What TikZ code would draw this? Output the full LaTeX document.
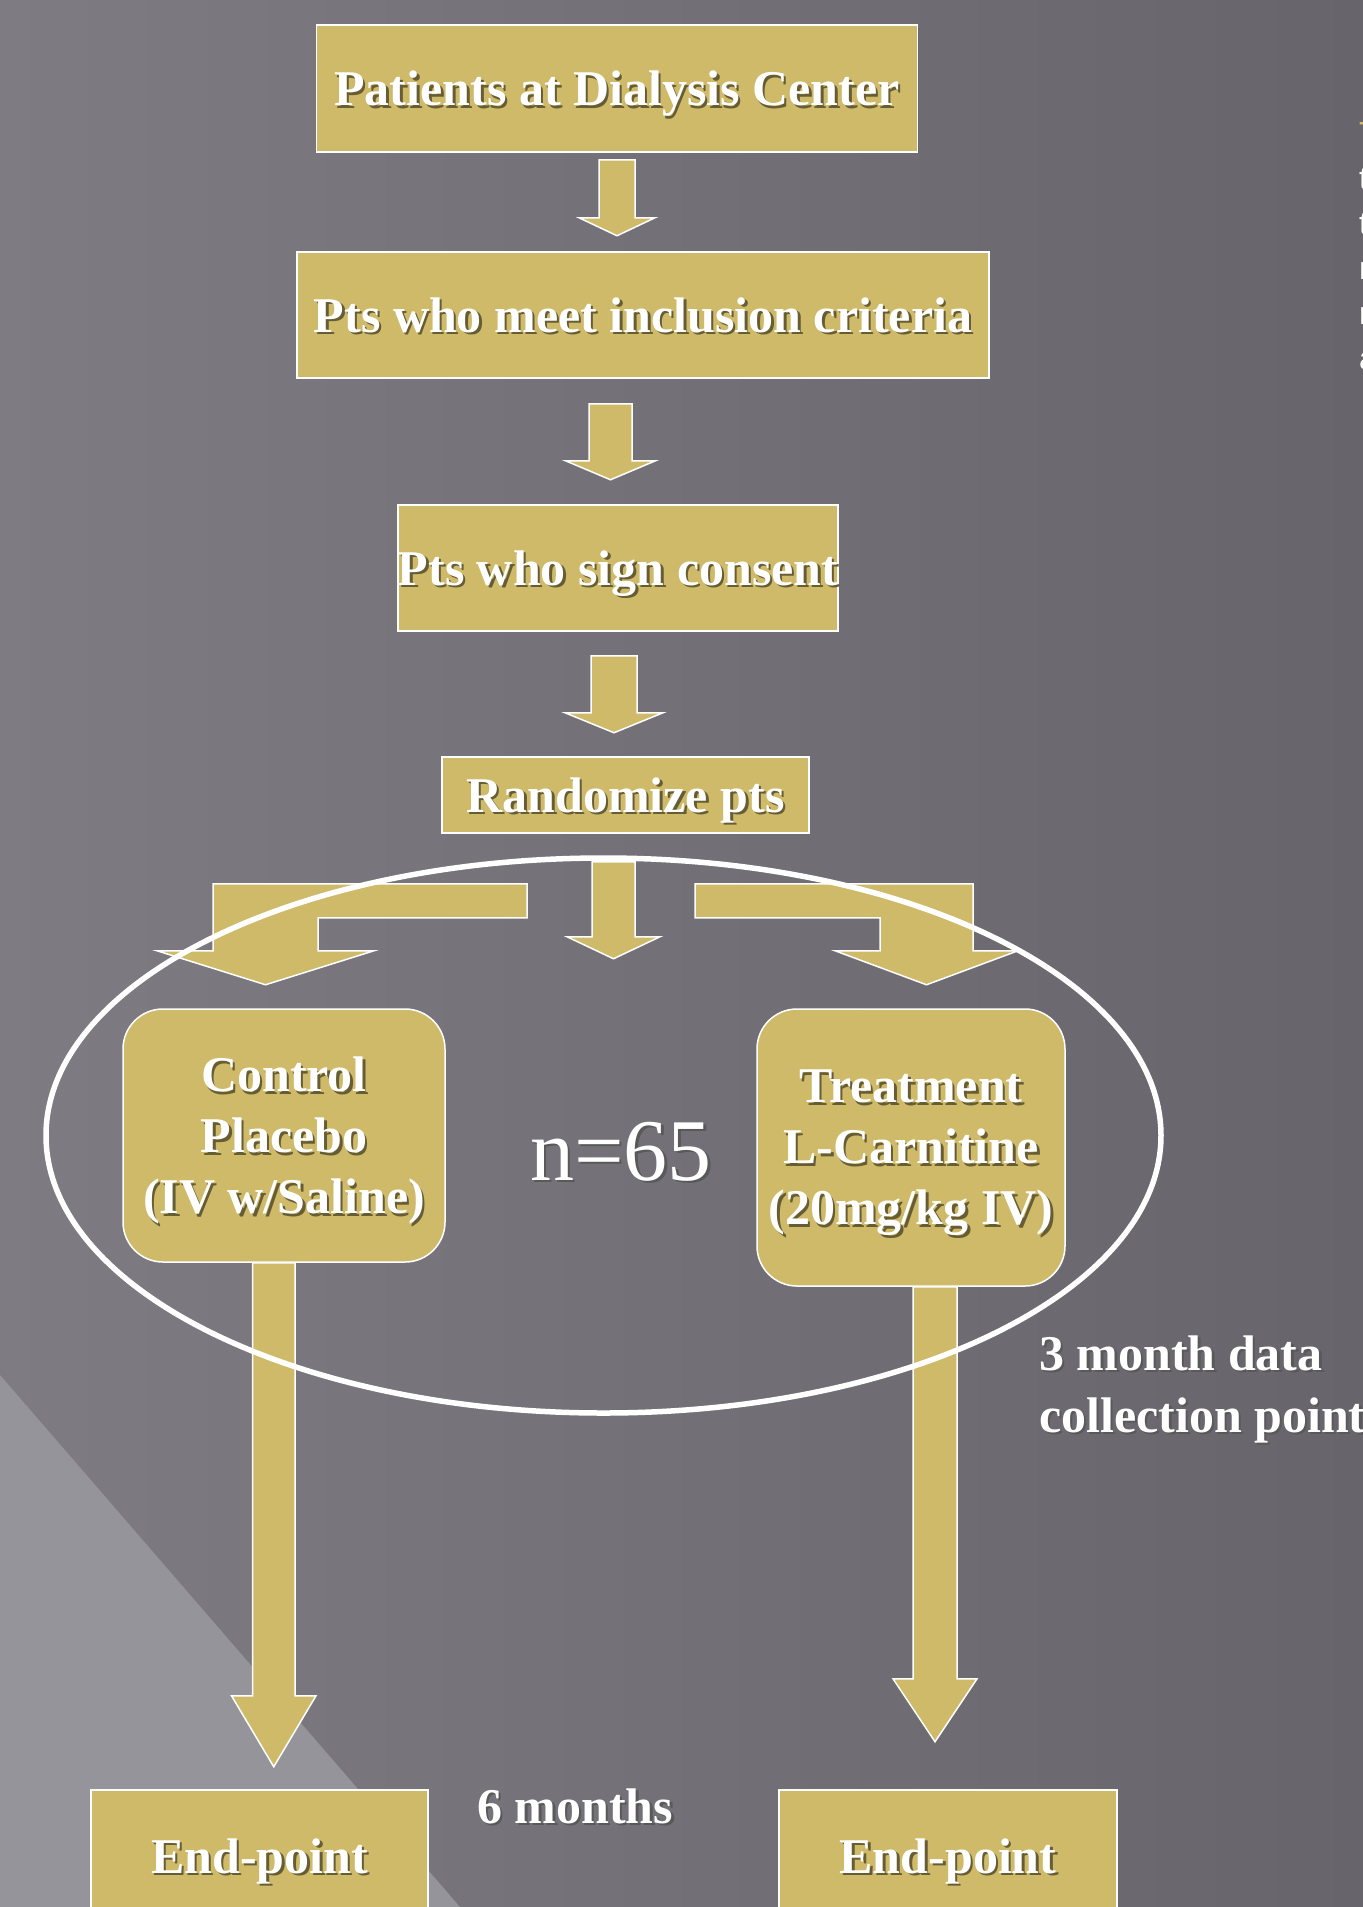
\documentclass[tikz,border=0pt]{standalone}
\usepackage{fontspec}
\setmainfont{Liberation Serif}
\newfontfamily\fragfont{Liberation Sans}
\usetikzlibrary{calc, positioning}

\definecolor{gold}{RGB}{206,186,104}
\definecolor{bgdark}{RGB}{103,101,107}
\definecolor{bglight}{RGB}{126,124,130}
\definecolor{bandgray}{RGB}{150,148,155}
\colorlet{shdc}{black!60}

% white text with a soft dark shadow
\newcommand{\shd}[1]{\makebox[0pt][l]{\kern2.5pt\raisebox{-2.5pt}{\textcolor{shdc}{#1}}}#1}

\tikzset{
  goldbox/.style={draw=white, line width=1.5pt, fill=gold, text=white, inner sep=0pt, align=center, text depth=0pt,
    font=\bfseries\fontsize{50}{61}\selectfont, execute at begin node={\colorlet{shdc}{gold!50!black}}},
  groupbox/.style={goldbox, rounded corners=40pt},
  blockarrow/.style={draw=white, line width=1.5pt, fill=gold},
  note/.style={text=white, inner sep=0pt, align=left,
    font=\bfseries\fontsize{50}{62}\selectfont, execute at begin node={\colorlet{shdc}{black!65}}}
}

\begin{document}
\begin{tikzpicture}[x=1pt, y=-1pt]

\useasboundingbox (0,0) rectangle (1363,1907);
\clip (0,0) rectangle (1363,1907);

% background
\shade[left color=bglight, right color=bgdark] (0,0) rectangle (1363,1907);
\fill[bandgray] (0,1375) -- (460,1907) -- (0,1907) -- cycle;

\node[goldbox, minimum width=601pt, minimum height=127pt] (pat) at (617,88.5) {\shd{Patients at Dialysis Center}};
\node[goldbox, minimum width=692pt, minimum height=126pt] (crit) at (643,315) {\shd{Pts who meet inclusion criteria}};
\node[goldbox, minimum width=436pt, minimum height=126pt] (cons) at (618,568) {\shd{Pts who sign consent}};
\node[goldbox, minimum width=367pt, minimum height=76pt] (rand) at (625.5,795) {\shd{Randomize pts}};
\node[groupbox, minimum width=322pt, minimum height=253pt] (ctrl) at (284,1135.5) {\shd{Control}\\\shd{Placebo}\\\shd{(IV w/Saline)}};
\node[groupbox, minimum width=308pt, minimum height=277pt] (treat) at (911,1147.5) {\shd{Treatment}\\\shd{L-Carnitine}\\\shd{(20mg/kg IV)}};
\node[goldbox, minimum width=337pt, minimum height=132pt] (endc) at (259.5,1856) {\shd{End-point}};
\node[goldbox, minimum width=338pt, minimum height=132pt] (endt) at (948,1856) {\shd{End-point}};

\node[note, anchor=base, font=\fontsize{88}{100}\selectfont] (nval) at (621,1180) {\shd{n=65}};
\node[note, anchor=base west] (six) at (477,1823) {\shd{6 months}};
\node[note, anchor=base west] (three) at (1039,1432) {\shd{3 month data}\\\shd{collection point}};
\node[anchor=north west, inner sep=0pt, text=white, align=left, font=\fragfont\fontsize{32}{45}\selectfont] (frag) at (1359,122) {\textcolor{gold}{T}\\t\\t\\r\\r\\a};

% block arrows
\draw[blockarrow] ($(pat.south)+(-18,7)$) -- ++(36,0) -- ++(0,58) -- ++(20,0) -- ++(-38,18) -- ++(-38,-18) -- ++(20,0) -- cycle;
\draw[blockarrow] ($(crit.south)+(-54,25)$) -- ++(43,0) -- ++(0,57) -- ++(23.5,0) -- ++(-45,19) -- ++(-45,-19) -- ++(23.5,0) -- cycle;
\draw[blockarrow] ($(cons.south)+(-27,24)$) -- ++(46,0) -- ++(0,57) -- ++(26,0) -- ++(-49,20) -- ++(-49,-20) -- ++(26,0) -- cycle;
\draw[blockarrow] ($(rand.south)+(-33.5,28)$) -- ++(43,0) -- ++(0,75) -- ++(25,0) -- ++(-46.5,22) -- ++(-46.5,-22) -- ++(25,0) -- cycle;
\draw[blockarrow] ($(rand.south)+(-98.5,50)$) -- ++(-314,0) -- ++(0,67) -- ++(-56,0) -- ++(108.5,34) -- ++(108.5,-34) -- ++(-56,0) -- ++(0,-33) -- ++(209,0) -- cycle;
\draw[blockarrow] ($(rand.south)+(69.5,50)$) -- ++(278,0) -- ++(0,67) -- ++(45,0) -- ++(-91.5,34) -- ++(-91.5,-34) -- ++(45,0) -- ++(0,-33) -- ++(-185,0) -- cycle;
\draw[blockarrow] ($(ctrl.south)+(-31.5,0)$) -- ++(42.5,0) -- ++(0,433) -- ++(21,0) -- ++(-42.25,71) -- ++(-42.25,-71) -- ++(21,0) -- cycle;
\draw[blockarrow] ($(treat.south)+(2,0)$) -- ++(44,0) -- ++(0,392) -- ++(20,0) -- ++(-42,63) -- ++(-42,-63) -- ++(20,0) -- cycle;

% study group
\draw[white, line width=5.5pt] (603.5,1135.5) ellipse [x radius=557.5, y radius=277.5];

\end{tikzpicture}
\end{document}
